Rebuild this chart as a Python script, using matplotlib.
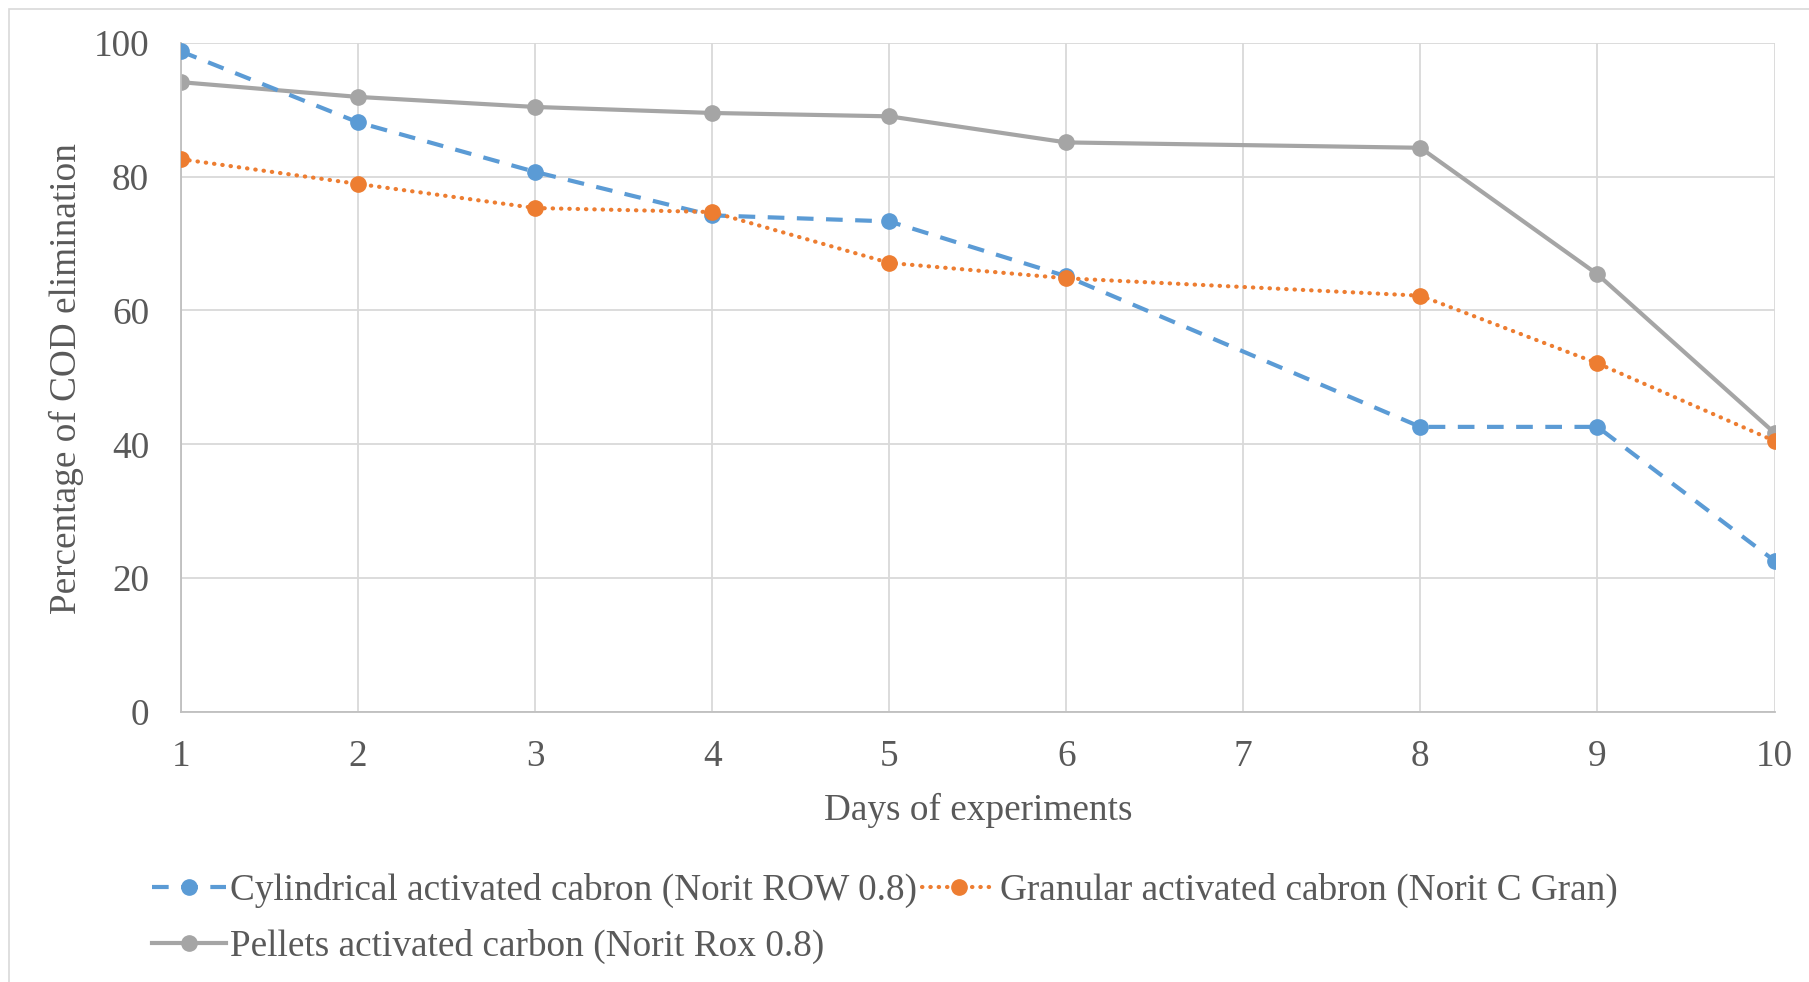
import matplotlib
matplotlib.use("Agg")
import matplotlib.pyplot as plt
from matplotlib.patches import Rectangle

# days with measurements (no sample on day 7)
days = [1, 2, 3, 4, 5, 6, 8, 9, 10]
day_ticks = [1, 2, 3, 4, 5, 6, 7, 8, 9, 10]

cylindrical = [98.7, 88.1, 80.7, 74.2, 73.3, 65.1, 42.6, 42.6, 22.6]
granular = [82.6, 78.9, 75.3, 74.7, 67.1, 64.8, 62.2, 52.1, 40.5]
pellets = [94.1, 91.9, 90.4, 89.5, 89.0, 85.1, 84.3, 65.4, 41.7]

lab_cyl = "Cylindrical activated cabron (Norit ROW 0.8)"
lab_gran = "Granular activated cabron (Norit C Gran)"
lab_pel = "Pellets activated carbon (Norit Rox 0.8)"

plt.rcParams['font.family'] = ['Liberation Serif', 'DejaVu Serif']
txt = '#595959'
fs = 26.8

W, H = 1809, 982
fig = plt.figure(figsize=(W / 100, H / 100), dpi=100)
ax = fig.add_axes([181 / W, 1 - 712 / H, (1774.5 - 181) / W, (712 - 42.7) / H])

# chart border (left and top edges visible)
fig.patches.append(Rectangle((8.7 / W, -0.1), 1.2, 1 - 9 / H + 0.1, transform=fig.transFigure,
                             fill=False, edgecolor='#D9D9D9', lw=1.2))

l1, = ax.plot(days, cylindrical, color='#5B9BD5', lw=3, dashes=(4, 3), marker='o', ms=11,
              label=lab_cyl, zorder=3)
l2, = ax.plot(days, granular, color='#ED7D31', lw=3, dashes=(0.1, 1.9), dash_capstyle='round',
              marker='o', ms=11, label=lab_gran, zorder=4)
l3, = ax.plot(days, pellets, color='#A5A5A5', lw=3, marker='o', ms=11, label=lab_pel, zorder=2)

ax.set_xlim(1, 10)
ax.set_ylim(0, 100)
ax.set_xticks(day_ticks)
ax.set_yticks([0, 20, 40, 60, 80, 100])
ax.grid(True, color='#D9D9D9', lw=1.3, zorder=0)
ax.set_axisbelow(True)
for s in ['top', 'right']:
    ax.spines[s].set_visible(False)
for s in ['left', 'bottom']:
    ax.spines[s].set_color('#BFBFBF')
    ax.spines[s].set_linewidth(1.3)
ax.tick_params(axis='both', length=0, labelsize=fs, labelcolor=txt)
ax.tick_params(axis='y', pad=23)
ax.tick_params(axis='x', pad=20)

ax.set_xlabel("Days of experiments", fontsize=fs, color=txt)
ax.xaxis.label.set_va('center')
ax.xaxis.set_label_coords(0.5, (712 - 810) / 669.3)
ax.set_ylabel("Percentage of COD elimination", fontsize=fs, color=txt)
ax.yaxis.label.set_va('center')
ax.yaxis.set_label_coords((66 - 181) / 1593.5, 0.499)

leg = fig.legend([l1, l3, l2], [lab_cyl, lab_pel, lab_gran], ncol=2, loc='center left',
                 bbox_to_anchor=(152 / W, 1 - 918.5 / H), frameon=False, fontsize=fs,
                 handlelength=2.0, handletextpad=0.1, columnspacing=0.12,
                 labelspacing=0.55, borderpad=0, borderaxespad=0)
for t in leg.get_texts():
    t.set_color(txt)

fig.savefig("out.png", dpi=100, facecolor='white')
